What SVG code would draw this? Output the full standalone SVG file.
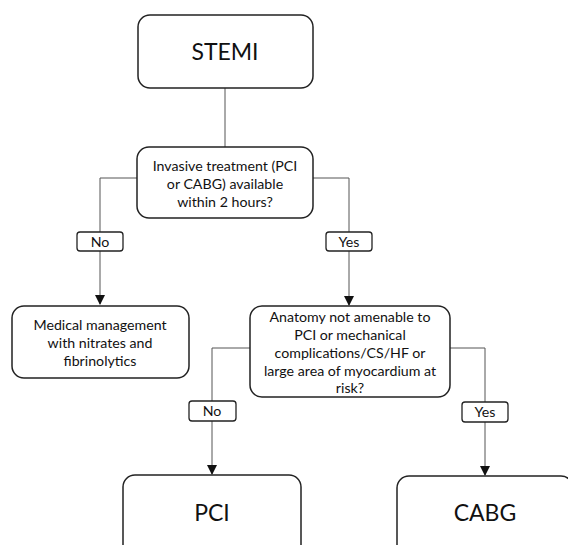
<svg xmlns="http://www.w3.org/2000/svg" width="568" height="545" viewBox="0 0 568 545">
<style>
.box{fill:#fff;stroke:#222;stroke-width:1.5}
.lbl{fill:#fff;stroke:#222;stroke-width:1.3}
.t{font-family:Lato,"Liberation Sans",Arial,sans-serif;fill:#111;text-anchor:middle}
.s{font-size:14.2px}
.b{font-size:23px}
.c{fill:none;stroke:#555;stroke-width:1}
</style>
<defs>
<marker id="ah" markerWidth="10" markerHeight="10" refX="9" refY="5" orient="auto" markerUnits="userSpaceOnUse">
<path d="M0,0 L10,5 L0,10 z" fill="#111"/>
</marker>
</defs>
<rect width="568" height="545" fill="#fff"/>
<g id="connectors">
<path class="c" d="M225,88 V147"/>
<path class="c" d="M137,178 H100 V232"/>
<path class="c" d="M100,251 V304" marker-end="url(#ah)"/>
<path class="c" d="M313,178 H349 V232"/>
<path class="c" d="M349,251 V305" marker-end="url(#ah)"/>
<path class="c" d="M250,348 H212 V401"/>
<path class="c" d="M212,421 V474" marker-end="url(#ah)"/>
<path class="c" d="M450,348 H485 V402"/>
<path class="c" d="M485,422 V475" marker-end="url(#ah)"/>
</g>
<g id="stemi">
<rect class="box" x="138" y="15" width="175" height="73" rx="12"/>
<text class="t b" x="225" y="60">STEMI</text>
</g>
<g id="decision1">
<rect class="box" x="137" y="147" width="176" height="71" rx="12"/>
<text class="t s" x="225" y="171">Invasive treatment (PCI</text>
<text class="t s" x="225" y="189">or CABG) available</text>
<text class="t s" x="225" y="207">within 2 hours?</text>
</g>
<g id="label-no1">
<rect class="lbl" x="77" y="232" width="46" height="19" rx="3"/>
<text class="t s" x="100" y="246.5">No</text>
</g>
<g id="label-yes1">
<rect class="lbl" x="326" y="232" width="46" height="19" rx="3"/>
<text class="t s" x="349" y="246.5">Yes</text>
</g>
<g id="medical">
<rect class="box" x="12" y="306" width="177" height="72" rx="12"/>
<text class="t s" x="100" y="330">Medical management</text>
<text class="t s" x="100" y="348">with nitrates and</text>
<text class="t s" x="100" y="366">fibrinolytics</text>
</g>
<g id="decision2">
<rect class="box" x="250" y="306" width="200" height="91" rx="12"/>
<text class="t s" x="350" y="322">Anatomy not amenable to</text>
<text class="t s" x="350" y="340">PCI or mechanical</text>
<text class="t s" x="350" y="358">complications/CS/HF or</text>
<text class="t s" x="350" y="376">large area of myocardium at</text>
<text class="t s" x="350" y="393">risk?</text>
</g>
<g id="label-no2">
<rect class="lbl" x="189" y="401" width="47" height="20" rx="3"/>
<text class="t s" x="212" y="416">No</text>
</g>
<g id="label-yes2">
<rect class="lbl" x="462" y="402" width="46" height="20" rx="3"/>
<text class="t s" x="485" y="417">Yes</text>
</g>
<g id="pci">
<rect class="box" x="123" y="475" width="178" height="90" rx="12"/>
<text class="t b" x="212" y="521">PCI</text>
</g>
<g id="cabg">
<rect class="box" x="397" y="476" width="176" height="90" rx="12"/>
<text class="t b" x="485" y="521">CABG</text>
</g>
</svg>
